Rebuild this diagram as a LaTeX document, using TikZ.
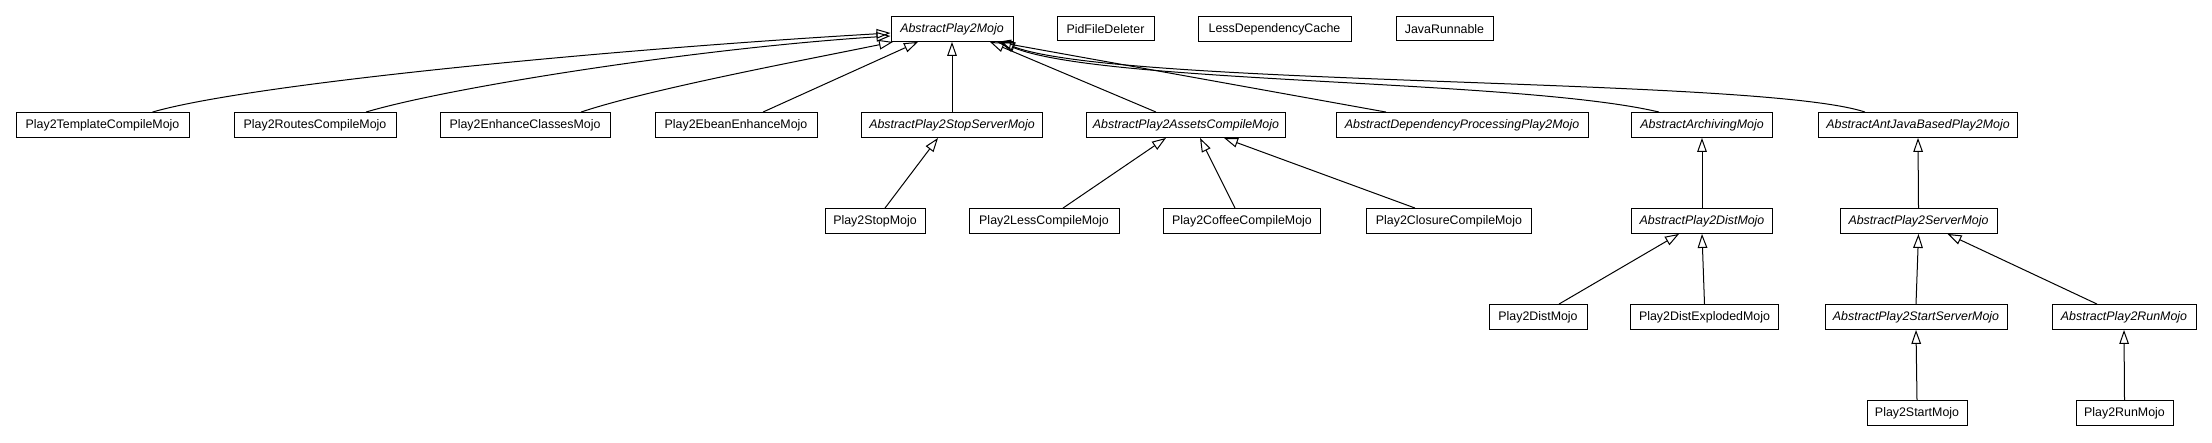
\documentclass[tikz,border=0pt]{standalone}
\usepackage{fontspec}
\setmainfont{Liberation Sans}
\usetikzlibrary{arrows.meta,calc}
\tikzset{
  cls/.style={draw,fill=white,line width=.5pt,minimum height=12pt,inner xsep=3pt,
    font=\fontsize{6.2}{7}\selectfont},
  abscls/.style={cls,font=\fontsize{6.2}{7}\selectfont\itshape},
  inh/.style={line width=.5pt,-{Triangle[open,length=7pt,width=4.8pt]}},
}

\begin{document}
\begin{tikzpicture}[x=.5pt,y=-.5pt]
    \useasboundingbox (0,0) rectangle (2212,443);
    \foreach \nm/\xx/\yy/\ww/\txt in {pid/1105.5/29/97/PidFileDeleter,
        ldc/1274.5/29/153/LessDependencyCache,jrun/1444.5/29/97/JavaRunnable,
        tmpl/102.5/125/173/Play2TemplateCompileMojo,rout/315/125/162/Play2RoutesCompileMojo,
        enh/525/125/170/Play2EnhanceClassesMojo,ebe/736/125/162/Play2EbeanEnhanceMojo,
        stopm/875/221/100/Play2StopMojo,less/1044/221/150/Play2LessCompileMojo,
        coffee/1242/221/157/Play2CoffeeCompileMojo,clos/1449/221/165/Play2ClosureCompileMojo,
        distm/1538/317/98/Play2DistMojo,dexp/1704.5/317/148/Play2DistExplodedMojo,
        startm/1917/413/100/Play2StartMojo,runm/2124.5/413/97/Play2RunMojo}{
      \node[cls,minimum width=\ww*.5pt] (\nm) at (\xx,\yy) {\txt};
    }
    \foreach \nm/\xx/\yy/\ww/\txt in {apm/952/29/122/AbstractPlay2Mojo,
        stops/952/125/181/AbstractPlay2StopServerMojo,assets/1186/125/198/AbstractPlay2AssetsCompileMojo,
        dep/1462/125/252/AbstractDependencyProcessingPlay2Mojo,arch/1702/125/141/AbstractArchivingMojo,
        ant/1918/125/199/AbstractAntJavaBasedPlay2Mojo,adist/1702/221/141/AbstractPlay2DistMojo,
        aserv/1918.5/221/157/AbstractPlay2ServerMojo,ass/1916/317/182/AbstractPlay2StartServerMojo,
        arun/2124/317/144/AbstractPlay2RunMojo}{
      \node[abscls,minimum width=\ww*.5pt] (\nm) at (\xx,\yy) {\txt};
    }
    \foreach \ch/\dc/\pa/\dp in {ebe/27/apm/-34,stops/0/apm/0,assets/-30/apm/38,dep/-76/apm/45,
        stopm/10/stops/-14,less/19/assets/-20,coffee/-7/assets/14,clos/-34/assets/38,
        adist/0/arch/0,aserv/0/ant/0,distm/21/adist/-23,dexp/0/adist/0,
        ass/0/aserv/0,arun/-27/aserv/29,startm/0/ass/0,runm/0/arun/0}{
      \draw[inh] ($(\ch.north)+(\dc,0)$) -- ($(\pa.south)+(\dp,0)$);
    }
    \draw[inh] ($(tmpl.north)+(50,0)$) .. controls +(97,-28) and +(-291,17) .. ($(apm.west)+(0,4)$);
    \draw[inh] ($(rout.north)+(51,0)$) .. controls +(84,-25) and +(-191,12) .. ($(apm.west)+(0,7)$);
    \draw[inh] ($(enh.north)+(56,0)$) .. controls +(69,-23) and +(-93,19) .. ($(apm.south)+(-59,0)$);
    \draw[inh] ($(arch.north)+(-43,0)$) .. controls +(-139,-33) and +(100,42) .. ($(apm.south)+(48,0)$);
    \draw[inh] ($(ant.north)+(-53,0)$) .. controls +(-105,-35) and +(119,45) .. ($(apm.south)+(49,0)$);
  \end{tikzpicture}
\end{document}
